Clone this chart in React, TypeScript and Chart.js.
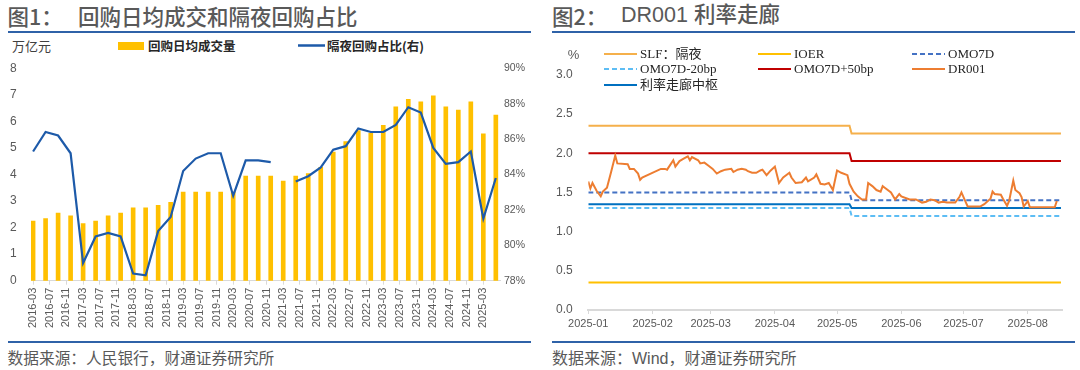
import React, { useEffect, useRef } from "react";
import { Chart, registerables } from "chart.js";
Chart.register(...registerables);

// ---------------- Figure 1 data ----------------
const quarters = [
  "2016-03", "2016-06", "2016-09", "2016-12",
  "2017-03", "2017-06", "2017-09", "2017-12",
  "2018-03", "2018-06", "2018-09", "2018-12",
  "2019-03", "2019-06", "2019-09", "2019-12",
  "2020-03", "2020-06", "2020-09", "2020-12",
  "2021-03", "2021-06", "2021-09", "2021-12",
  "2022-03", "2022-06", "2022-09", "2022-12",
  "2023-03", "2023-06", "2023-09", "2023-12",
  "2024-03", "2024-06", "2024-09", "2024-12",
  "2025-03", "2025-06",
];
// 回购日均成交量 (万亿元)
const repoVolume = [
  2.25, 2.34, 2.55, 2.44,
  2.15, 2.25, 2.44, 2.55,
  2.74, 2.74, 2.84, 2.95,
  3.34, 3.34, 3.34, 3.34,
  3.34, 3.94, 3.94, 3.94,
  3.75, 3.94, 4.03, 4.27,
  4.84, 5.24, 5.65, 5.55,
  5.85, 6.55, 6.83, 6.74,
  6.96, 6.55, 6.43, 6.74,
  5.53, 6.24,
];
// 隔夜回购占比 (%)
const overnightShare: (number | null)[] = [
  85.3, 86.4, 86.2, 85.2,
  79.0, 80.5, 80.7, 80.5,
  78.4, 78.3, 80.8, 81.6,
  84.2, 84.9, 85.2, 85.2,
  82.8, 84.8, 84.8, 84.7,
  null, 83.6, 83.9, 84.4,
  85.4, 85.6, 86.6, 86.4,
  86.4, 86.8, 87.8, 87.5,
  85.5, 84.6, 84.7, 85.3,
  81.5, 83.8,
];
const fig1TickLabels = [
  "2016-03", "2016-07", "2016-11", "2017-03", "2017-07", "2017-11",
  "2018-03", "2018-07", "2018-11", "2019-03", "2019-07", "2019-11",
  "2020-03", "2020-07", "2020-11", "2021-03", "2021-07", "2021-11",
  "2022-03", "2022-07", "2022-11", "2023-03", "2023-07", "2023-11",
  "2024-03", "2024-07", "2024-11", "2025-03",
];

// ---------------- Figure 2 data ----------------
const drDates = [
  "2025-01-01", "2025-01-02", "2025-01-03", "2025-01-05", "2025-01-07", "2025-01-08", "2025-01-10",
  "2025-01-12", "2025-01-14", "2025-01-15", "2025-01-20", "2025-01-21", "2025-01-23", "2025-01-25",
  "2025-01-26", "2025-01-27", "2025-02-05", "2025-02-07", "2025-02-08", "2025-02-11", "2025-02-12",
  "2025-02-14", "2025-02-16", "2025-02-18", "2025-02-19", "2025-02-20", "2025-02-23", "2025-02-24",
  "2025-02-26", "2025-02-28", "2025-03-02", "2025-03-04", "2025-03-06", "2025-03-08", "2025-03-11",
  "2025-03-12", "2025-03-14", "2025-03-16", "2025-03-18", "2025-03-19", "2025-03-21", "2025-03-23",
  "2025-03-25", "2025-03-26", "2025-03-28", "2025-03-30", "2025-04-01", "2025-04-03", "2025-04-05",
  "2025-04-08", "2025-04-09", "2025-04-11", "2025-04-14", "2025-04-16", "2025-04-17", "2025-04-20",
  "2025-04-21", "2025-04-23", "2025-04-25", "2025-04-27", "2025-04-29", "2025-05-01", "2025-05-03",
  "2025-05-06", "2025-05-07", "2025-05-09", "2025-05-11", "2025-05-13", "2025-05-15", "2025-05-16",
  "2025-05-18", "2025-05-20", "2025-05-22", "2025-05-23", "2025-05-24", "2025-05-27", "2025-05-29",
  "2025-05-31", "2025-06-01", "2025-06-05", "2025-06-08", "2025-06-11", "2025-06-13", "2025-06-15",
  "2025-06-17", "2025-06-19", "2025-06-21", "2025-06-23", "2025-06-27", "2025-06-29", "2025-06-30",
  "2025-07-02", "2025-07-03", "2025-07-09", "2025-07-11", "2025-07-14", "2025-07-15", "2025-07-16",
  "2025-07-19", "2025-07-20", "2025-07-22", "2025-07-23", "2025-07-25", "2025-07-26", "2025-07-28",
  "2025-07-29", "2025-07-30", "2025-08-01", "2025-08-02", "2025-08-06", "2025-08-09", "2025-08-14",
  "2025-08-15",
];
const dr001 = [
  1.64, 1.55, 1.62, 1.52, 1.45, 1.51, 1.56,
  1.76, 1.97, 1.87, 1.86, 1.80, 1.80, 1.74,
  1.66, 1.69, 1.80, 1.80, 1.79, 1.91, 1.83,
  1.90, 1.93, 1.96, 1.91, 1.95, 1.91, 1.87,
  1.88, 1.84, 1.80, 1.74, 1.77, 1.79, 1.80,
  1.76, 1.79, 1.80, 1.79, 1.77, 1.75, 1.75,
  1.78, 1.79, 1.72, 1.78, 1.83, 1.62, 1.69,
  1.75, 1.69, 1.62, 1.63, 1.69, 1.64, 1.69,
  1.73, 1.61, 1.60, 1.62, 1.53, 1.78, 1.75,
  1.72, 1.61, 1.51, 1.45, 1.41, 1.41, 1.62,
  1.58, 1.53, 1.51, 1.58, 1.56, 1.50, 1.41,
  1.48, 1.45, 1.41, 1.41, 1.37, 1.38, 1.41,
  1.40, 1.37, 1.38, 1.37, 1.37, 1.44, 1.50,
  1.38, 1.32, 1.32, 1.35, 1.42, 1.51, 1.48,
  1.47, 1.42, 1.33, 1.39, 1.65, 1.53, 1.49,
  1.44, 1.32, 1.39, 1.31, 1.31, 1.31, 1.31,
  1.39,
];
const corridorDates = ["2025-01-01", "2025-05-07", "2025-05-08", "2025-08-17"];
const slfOvernight = [2.35, 2.35, 2.25, 2.25];
const ioer = [0.35, 0.35, 0.35, 0.35];
const omo7d = [1.5, 1.5, 1.4, 1.4];
const omo7dMinus20 = [1.3, 1.3, 1.2, 1.2];
const omo7dPlus50 = [2.0, 2.0, 1.9, 1.9];
const corridorMid = [1.35, 1.35, 1.3, 1.3];
const fig2TickLabels = ["2025-01", "2025-02", "2025-03", "2025-04", "2025-05", "2025-06", "2025-07", "2025-08"];

// ---------------- helpers ----------------
const monthIdx = (s: string) => {
  const [y, m] = s.split("-").map(Number);
  return (y - 2016) * 12 + (m - 3);
};
const dayIdx = (s: string) => {
  const p = s.split("-").map(Number);
  return Math.round((Date.UTC(p[0], p[1] - 1, p[2] || 1) - Date.UTC(2025, 0, 1)) / 864e5);
};
const pts = (xs: number[], ys: (number | null)[]) => xs.map((x, i) => ({ x, y: ys[i] }));

const SANS = "'Liberation Sans', 'Noto Sans CJK SC', sans-serif";
const CJK = "'Noto Sans CJK SC', sans-serif";
const SERIF = "'Liberation Serif', 'Noto Sans CJK SC', serif";
const GRAY = "#595959";
const RULE = "#2F62A8";

const C = {
  bar: "#FFC000",
  share: "#1D5AA9",
  slf: "#F5B04B",
  ioer: "#FFC000",
  omo: "#4472C4",
  omoM: "#5DBDF4",
  omoP: "#C00000",
  dr: "#ED7D31",
  mid: "#0070C0",
};

type TxtProps = {
  x: number; y: number; size: number; color?: string; weight?: any; family?: string;
  center?: boolean; children: React.ReactNode;
};
const Txt = ({ x, y, size, color = GRAY, weight = "normal", family = SANS, center, children }: TxtProps) => (
  <div
    style={{
      position: "absolute", left: x, top: y - size, height: size * 2, lineHeight: `${size * 2}px`,
      fontSize: size, color, fontWeight: weight, fontFamily: family, whiteSpace: "nowrap",
      transform: center ? "translateX(-50%)" : undefined,
    }}
  >
    {children}
  </div>
);

const Rule = ({ x1, x2, y }: { x1: number; x2: number; y: number }) => (
  <div style={{ position: "absolute", left: x1, top: y, width: x2 - x1, height: 2, background: RULE }} />
);

const Swatch = ({ x, y, color, dash }: { x: number; y: number; color: string; dash?: string }) => (
  <svg style={{ position: "absolute", left: x, top: y - 3 }} width={33} height={6}>
    <line x1={0} y1={3} x2={33} y2={3} stroke={color} strokeWidth={2} strokeDasharray={dash} />
  </svg>
);

function Fig1() {
  const ref = useRef<HTMLCanvasElement>(null);
  useEffect(() => {
    const xs = quarters.map(monthIdx);
    const tickVals = fig1TickLabels.map(monthIdx);
    const chart = new Chart(ref.current!, {
      type: "bar",
      data: {
        datasets: [
          {
            type: "line", label: "隔夜回购占比(右)", data: pts(xs, overnightShare) as any, yAxisID: "y1",
            borderColor: C.share, borderWidth: 2.2, pointRadius: 0, tension: 0, spanGaps: false, order: 0,
          } as any,
          {
            type: "bar", label: "回购日均成交量", data: pts(xs, repoVolume) as any, yAxisID: "y",
            backgroundColor: C.bar, barThickness: 4, order: 1,
          } as any,
        ],
      },
      options: {
        animation: false, responsive: false, maintainAspectRatio: false,
        layout: { padding: { top: 12.3, left: 10, right: 15, bottom: 0 } },
        plugins: { legend: { display: false }, tooltip: { enabled: false } },
        scales: {
          x: {
            type: "linear", min: -0.5, max: xs[xs.length - 1] + 1, offset: false,
            grid: { display: true, drawOnChartArea: false, drawTicks: true, tickLength: 4, color: "#D9D9D9", offset: false },
            border: { display: true, color: "#D9D9D9", width: 1 },
            afterBuildTicks: (s: any) => { s.ticks = tickVals.map((v) => ({ value: v })); },
            afterFit: (s: any) => { s.height = 59.3; },
            ticks: {
              autoSkip: false, minRotation: 90, maxRotation: 90, padding: 3, color: GRAY,
              font: { size: 11, family: SANS },
              callback: (v: any) => fig1TickLabels[tickVals.indexOf(Number(v))] ?? "",
            },
          } as any,
          y: {
            position: "left", min: 0, max: 8,
            ticks: { stepSize: 1, padding: 0, crossAlign: "far", color: GRAY, font: { size: 12, family: SANS } },
            grid: { display: false, drawTicks: false }, border: { display: false },
            afterFit: (s: any) => { s.width = 21; },
          } as any,
          y1: {
            position: "right", min: 78, max: 90,
            ticks: { stepSize: 2, padding: 0, crossAlign: "far", color: GRAY, font: { size: 10.5, family: SANS }, callback: (v: any) => `${v}%` },
            grid: { display: false, drawTicks: false }, border: { display: false },
            afterFit: (s: any) => { s.width = 25; },
          } as any,
        },
      },
    });
    return () => chart.destroy();
  }, []);
  return (
    <canvas ref={ref} width={540} height={284}
      style={{ position: "absolute", left: 0, top: 56, width: 540, height: 284 }} />
  );
}

function Fig2() {
  const ref = useRef<HTMLCanvasElement>(null);
  useEffect(() => {
    const cx = corridorDates.map(dayIdx);
    const tickVals = fig2TickLabels.map(dayIdx);
    const line = (label: string, ys: number[], color: string, dash?: number[], xs = cx) => ({
      label, data: pts(xs, ys), borderColor: color, borderWidth: 2, pointRadius: 0, tension: 0,
      borderDash: dash ?? [], fill: false,
    });
    const chart = new Chart(ref.current!, {
      type: "line",
      data: {
        datasets: [
          line("DR001", dr001, C.dr, undefined, drDates.map(dayIdx)),
          line("利率走廊中枢", corridorMid, C.mid),
          line("SLF：隔夜", slfOvernight, C.slf),
          line("IOER", ioer, C.ioer),
          line("OMO7D", omo7d, C.omo, [5, 3]),
          line("OMO7D-20bp", omo7dMinus20, C.omoM, [5, 3]),
          line("OMO7D+50bp", omo7dPlus50, C.omoP),
        ] as any,
      },
      options: {
        animation: false, responsive: false, maintainAspectRatio: false,
        layout: { padding: { top: 14.8, left: 16, right: 18, bottom: 0 } },
        plugins: { legend: { display: false }, tooltip: { enabled: false } },
        scales: {
          x: {
            type: "linear", min: 0, max: cx[cx.length - 1] + 0.5, offset: false,
            grid: { display: true, drawOnChartArea: false, drawTicks: true, tickLength: 4, color: "#D9D9D9" },
            border: { display: true, color: "#D9D9D9", width: 2 },
            afterBuildTicks: (s: any) => { s.ticks = tickVals.map((v) => ({ value: v })); },
            afterFit: (s: any) => { s.height = 30; },
            ticks: {
              autoSkip: false, minRotation: 0, maxRotation: 0, padding: 3, color: GRAY,
              font: { size: 11, family: SANS },
              callback: (v: any) => fig2TickLabels[tickVals.indexOf(Number(v))] ?? "",
            },
          } as any,
          y: {
            min: 0, max: 3,
            ticks: { stepSize: 0.5, padding: 0, crossAlign: "far", color: GRAY, font: { size: 12, family: SANS }, callback: (v: any) => Number(v).toFixed(1) },
            grid: { display: false, drawTicks: false }, border: { display: false },
            afterFit: (s: any) => { s.width = 32.3; },
          } as any,
        },
      },
    });
    return () => chart.destroy();
  }, []);
  return (
    <canvas ref={ref} width={540} height={280}
      style={{ position: "absolute", left: 540, top: 60, width: 540, height: 280 }} />
  );
}

const fig2Legend = [
  { name: "SLF：隔夜", color: C.slf, col: 0, row: 0 },
  { name: "IOER", color: C.ioer, col: 1, row: 0 },
  { name: "OMO7D", color: C.omo, col: 2, row: 0, dash: "5 3" },
  { name: "OMO7D-20bp", color: C.omoM, col: 0, row: 1, dash: "5 3" },
  { name: "OMO7D+50bp", color: C.omoP, col: 1, row: 1 },
  { name: "DR001", color: C.dr, col: 2, row: 1 },
  { name: "利率走廊中枢", color: C.mid, col: 0, row: 2 },
];
const legendColX = [604, 758, 912];
const legendRowY = [53.7, 69.2, 84.8];

export default function App() {
  return (
    <div style={{ position: "absolute", left: 0, top: 0, width: 1080, height: 370, background: "#fff", overflow: "hidden" }}>
      {/* Figure 1 */}
      <Txt x={7.6} y={15.6} size={21.5} weight={500} family={CJK}>图1：</Txt>
      <Txt x={78} y={15.6} size={21.5} weight={500} family={CJK}>回购日均成交和隔夜回购占比</Txt>
      <Rule x1={7.6} x2={531} y={31} />
      <Txt x={12} y={45.5} size={13} color="#404040" family={CJK}>万亿元</Txt>
      <div style={{ position: "absolute", left: 118, top: 41.5, width: 26, height: 8.5, background: C.bar }} />
      <Txt x={148} y={45.5} size={12.5} color="#262626" weight={600} family={CJK}>回购日均成交量</Txt>
      <svg style={{ position: "absolute", left: 298, top: 43 }} width={27} height={5}>
        <line x1={0} y1={2.5} x2={27} y2={2.5} stroke={C.share} strokeWidth={2.5} />
      </svg>
      <Txt x={327} y={45.5} size={12.5} color="#262626" weight={600} family={CJK}>隔夜回购占比(右)</Txt>
      <Fig1 />
      <Rule x1={7.6} x2={531} y={341} />
      <Txt x={7.6} y={358.5} size={15.7} family={SANS}>数据来源：人民银行，财通证券研究所</Txt>

      {/* Figure 2 */}
      <Txt x={552} y={15.6} size={21.5} weight={500} family={CJK}>图2：</Txt>
      <Txt x={621} y={15.6} size={21.5} weight={500} family={SANS}>DR001 利率走廊</Txt>
      <Rule x1={552} x2={1075} y={31} />
      <Fig2 />
      <Txt x={573.6} y={54.5} size={13} center>%</Txt>
      {fig2Legend.map((l) => (
        <React.Fragment key={l.name}>
          <Swatch x={legendColX[l.col]} y={legendRowY[l.row]} color={l.color} dash={l.dash} />
          <Txt x={legendColX[l.col] + 36} y={legendRowY[l.row]} size={13} color="#262626" family={SERIF}>{l.name}</Txt>
        </React.Fragment>
      ))}
      <Rule x1={552} x2={1075} y={341} />
      <Txt x={552} y={359} size={16} family={SANS}>数据来源：Wind，财通证券研究所</Txt>
    </div>
  );
}
